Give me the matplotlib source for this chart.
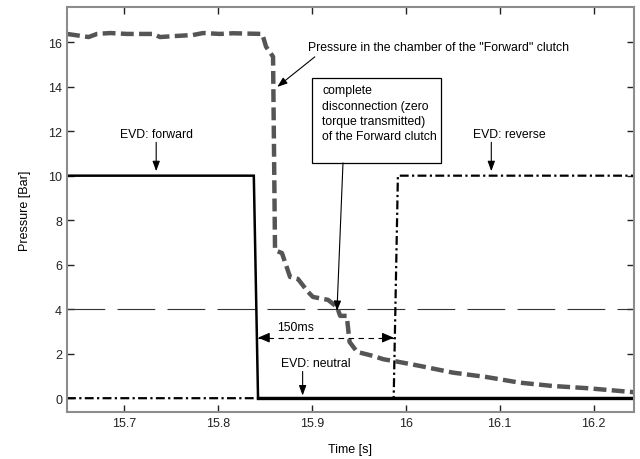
"""EVD command switching forward -> neutral -> reverse and pressure in the Forward clutch chamber."""
import numpy as np
import matplotlib
matplotlib.use("Agg")
import matplotlib.pyplot as plt
from matplotlib.patches import Rectangle

plt.rcParams["font.family"] = ["Liberation Sans", "DejaVu Sans"]

# pressure in the chamber of the "Forward" clutch [bar]
t_press = [15.639, 15.662, 15.671, 15.685, 15.703, 15.731, 15.738, 15.756, 15.773, 15.784,
           15.802, 15.816, 15.847, 15.851, 15.855, 15.8585, 15.8606, 15.868, 15.8766, 15.885,
           15.8957, 15.901, 15.917, 15.9266, 15.930, 15.937, 15.940, 15.948, 15.965, 15.976,
           15.990, 16.015, 16.050, 16.086, 16.121, 16.156, 16.193, 16.243]
p_press = [16.37, 16.23, 16.37, 16.41, 16.37, 16.37, 16.23, 16.28, 16.32, 16.41,
           16.37, 16.40, 16.37, 15.80, 15.55, 15.35, 6.65, 6.52, 5.45, 5.36,
           4.78, 4.55, 4.42, 4.10, 3.70, 3.70, 2.53, 2.08, 1.90, 1.75,
           1.65, 1.45, 1.15, 0.95, 0.70, 0.55, 0.45, 0.27]

# EVD forward command
t_fwd = [15.639, 15.838, 15.8425, 16.243]
p_fwd = [10, 10, 0, 0]

# EVD reverse command
t_rev = [15.639, 15.987, 15.9915, 16.243]
p_rev = [0, 0, 10, 10]

p_threshold = 4.0   # zero-torque pressure level
XLIM = (15.639, 16.243)
YLIM = (-0.62, 17.58)
XTICKS = [15.7, 15.8, 15.9, 16.0, 16.1, 16.2]
XTICKLABELS = ["15.7", "15.8", "15.9", "16", "16.1", "16.2"]
YTICKS = [0, 2, 4, 6, 8, 10, 12, 14, 16]

# note box (data coords): x0, y0, width, height
BOX = (15.900, 10.575, 0.137, 3.83)


def main():
    fig = plt.figure(figsize=(6.4, 4.6), dpi=100)
    ax = fig.add_axes([0.1047, 0.1022, 0.8859, 0.8804])

    ax.axhline(p_threshold, color="#333333", lw=0.8, dashes=(34, 11))
    ax.plot(t_rev, p_rev, color="black", lw=1.6, dashes=(4, 1.5, 1, 1.5))
    ax.plot(t_fwd, p_fwd, color="black", lw=1.8, solid_joinstyle="miter")
    ax.plot(t_fwd[2:], p_fwd[2:], color="black", lw=2.4)
    ax.plot(t_press, p_press, color="#555555", lw=3.2, dashes=(2.9, 1.2))

    # 150 ms gap between forward off and reverse on
    t_off, t_on = t_fwd[2], t_rev[1]
    y_gap = 2.72
    ax.plot([t_off, t_on], [y_gap, y_gap], color="black", lw=0.8, dashes=(5, 4))
    head = dict(arrowstyle="-|>,head_length=0.7,head_width=0.3", color="black", lw=0.8,
                shrinkA=0, shrinkB=0)
    ax.annotate("", xy=(t_off, y_gap), xytext=(t_off + 0.012, y_gap), arrowprops=head)
    ax.annotate("", xy=(t_on, y_gap), xytext=(t_on - 0.012, y_gap), arrowprops=head)
    ax.text(15.883, 2.95, "150ms", fontsize=8.8, ha="center", va="bottom")

    arrow = dict(arrowstyle="-|>,head_length=0.6,head_width=0.22", color="black", lw=0.8,
                 shrinkA=0, shrinkB=0)
    ax.annotate("", xy=(15.734, 10.2), xytext=(15.734, 11.5), arrowprops=arrow)
    ax.text(15.734, 11.6, "EVD: forward", fontsize=8.8, ha="center", va="bottom")
    ax.annotate("", xy=(16.091, 10.2), xytext=(16.091, 11.5), arrowprops=arrow)
    ax.text(16.072, 11.6, "EVD: reverse", fontsize=8.8, ha="left", va="bottom")
    ax.annotate("", xy=(15.890, 0.12), xytext=(15.890, 1.2), arrowprops=arrow)
    ax.text(15.867, 1.3, "EVD: neutral", fontsize=8.8, ha="left", va="bottom")

    ax.annotate("", xy=(15.863, 13.99), xytext=(15.903, 15.34), arrowprops=arrow)
    ax.text(15.896, 15.8, 'Pressure in the chamber of the "Forward" clutch',
            fontsize=8.8, ha="left", va="center")

    ax.add_patch(Rectangle(BOX[:2], BOX[2], BOX[3], fc="white", ec="black", lw=0.9, zorder=3))
    ax.annotate("", xy=(15.9266, 3.92), xytext=(15.933, BOX[1]), arrowprops=arrow)
    ax.text(15.911, 14.1, "complete\ndisconnection (zero\ntorque transmitted)\nof the Forward clutch",
            fontsize=8.8, ha="left", va="top", linespacing=1.35, zorder=4)

    ax.set_xlim(*XLIM)
    ax.set_ylim(*YLIM)
    ax.set_xticks(XTICKS)
    ax.set_xticklabels(XTICKLABELS)
    ax.set_yticks(YTICKS)
    ax.tick_params(direction="in", length=5, width=1, top=True, right=True,
                   labelsize=9, colors="#222222")
    for s in ax.spines.values():
        s.set_color("#8c8c8c")
        s.set_linewidth(1.5)
    ax.set_xlabel("Time [s]", fontsize=9, labelpad=10)
    ax.set_ylabel("Pressure [Bar]", fontsize=9, labelpad=12)

    fig.savefig("out.png", dpi=100)
    plt.close(fig)


if __name__ == "__main__":
    main()
